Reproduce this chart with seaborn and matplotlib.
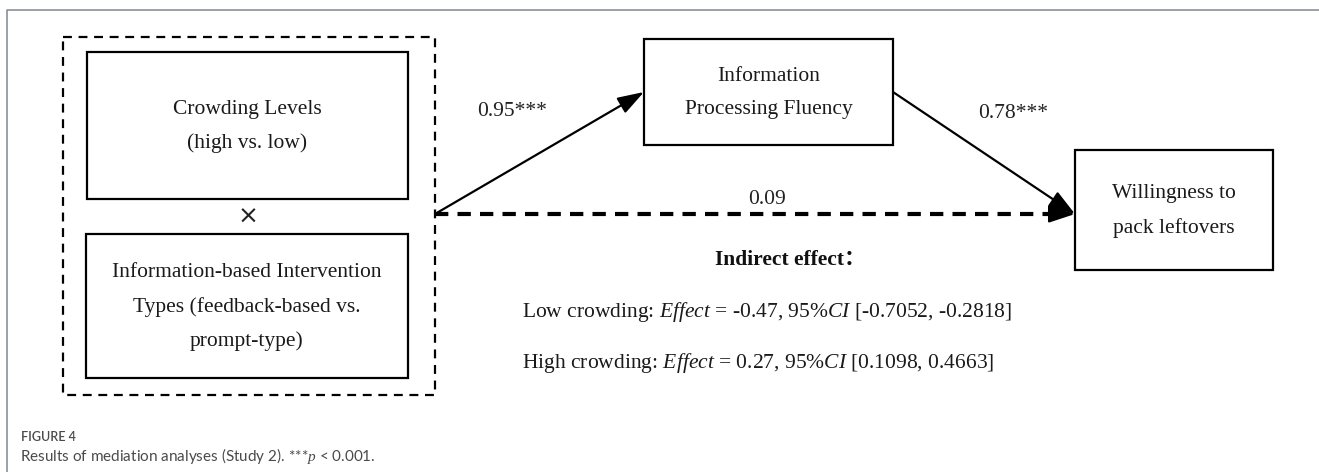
import numpy as np
import seaborn as sns
import matplotlib.pyplot as plt
from matplotlib.patches import Rectangle, FancyArrowPatch

# diagram content
node_labels = [
    "Crowding Levels\n(high vs. low)",
    "Information-based Intervention\nTypes (feedback-based vs.\nprompt-type)",
    "Information\nProcessing Fluency",
    "Willingness to\npack leftovers",
]
path_labels = ["0.95***", "0.78***", "0.09"]
effect_groups = ["Low crowding", "High crowding"]
effect_values = ["-0.47", "0.27"]
ci_low = ["-0.7052", "0.1098"]
ci_high = ["-0.2818", "0.4663"]
caption_head = "FIGURE 4"
caption_text = r"Results of mediation analyses (Study 2). ***$p$ < 0.001."

# layout in pixel space: (x0, y0, x1, y1)
boxes = [(87, 52, 408, 199), (86, 234, 408, 378), (644, 39, 893, 145), (1075, 150, 1273, 270)]
outer = (63, 37, 435, 395)

sns.set_theme(style="white")
plt.rcParams["mathtext.fontset"] = "custom"
plt.rcParams["mathtext.it"] = "Liberation Serif:italic"
plt.rcParams["mathtext.rm"] = "Liberation Serif"
serif = ["Liberation Serif", "Noto Sans CJK SC", "DejaVu Serif"]
fs = 15.5

fig = plt.figure(figsize=(13.19, 4.72), dpi=100)
ax = fig.add_axes([0, 0, 1, 1])
ax.set_xlim(0, 1319)
ax.set_ylim(472, 0)
ax.axis("off")

# page frame
ax.plot([7, 7, 1319], [472, 10, 10], color="#8a8f99", lw=1.2)

# dashed group box
ax.add_patch(Rectangle((outer[0], outer[1]), outer[2] - outer[0], outer[3] - outer[1],
                       fill=False, ec="black", lw=1.6, ls=(0, (4, 3))))

for (x0, y0, x1, y1), lab in zip(boxes, node_labels):
    ax.add_patch(Rectangle((x0, y0), x1 - x0, y1 - y0, fill=False, ec="black", lw=1.6))
    ax.text((x0 + x1) / 2, (y0 + y1) / 2 + 1, lab, ha="center", va="center",
            family=serif, fontsize=fs, linespacing=2.0, color="#1a1a1a")

ax.text(248, 217, "×", ha="center", va="center", family=["DejaVu Sans"], fontsize=18,
        color="#222222")

src = (outer[2], 214)
fl = boxes[2]
wl = boxes[3]
fl_mid = (fl[0], (fl[1] + fl[3]) / 2)
wl_mid = (wl[0], 214)

arr_kw = dict(arrowstyle="-|>,head_length=1.15,head_width=0.38", color="black",
              mutation_scale=14, shrinkA=0, shrinkB=0)
ax.add_patch(FancyArrowPatch(src, fl_mid, lw=1.6, **arr_kw))
ax.add_patch(FancyArrowPatch((fl[2], fl_mid[1]), wl_mid, lw=1.6, **arr_kw))
# dashed direct path, solid head
ax.plot([src[0], wl_mid[0] - 18], [214, 214], color="black", lw=3, ls=(0, (3.2, 2.2)))
ax.add_patch(FancyArrowPatch((wl_mid[0] - 20, 214), wl_mid, lw=1.6, **arr_kw))

ax.text(512, 111, path_labels[0], ha="center", va="center", family=serif, fontsize=fs,
        color="#222222")
ax.text(1013, 113, path_labels[1], ha="center", va="center", family=serif, fontsize=fs,
        color="#222222")
ax.text(767, 200, path_labels[2], ha="center", va="center", family=serif, fontsize=fs,
        color="#222222")

ax.text(790, 260, "Indirect effect：", ha="center", va="center", family=serif,
        fontsize=fs, fontweight="bold", color="#111111")

for i, ypos in enumerate([312, 363]):
    ax.text(522, ypos,
            f"{effect_groups[i]}: $\\mathit{{Effect}}$ = {effect_values[i]}, "
            f"95%$\\mathit{{CI}}$ [{ci_low[i]}, {ci_high[i]}]",
            ha="left", va="center", family=serif, fontsize=fs, color="#1a1a1a")

cap_font = ["Lato", "DejaVu Sans"]
ax.text(21, 437, caption_head, ha="left", va="center", family=cap_font, fontsize=9,
        fontweight="semibold", color="#4a4a4a")
ax.text(20, 456, caption_text, ha="left", va="center", family=cap_font, fontsize=11,
        color="#4a4a4a")

fig.savefig("out.png", dpi=100)
